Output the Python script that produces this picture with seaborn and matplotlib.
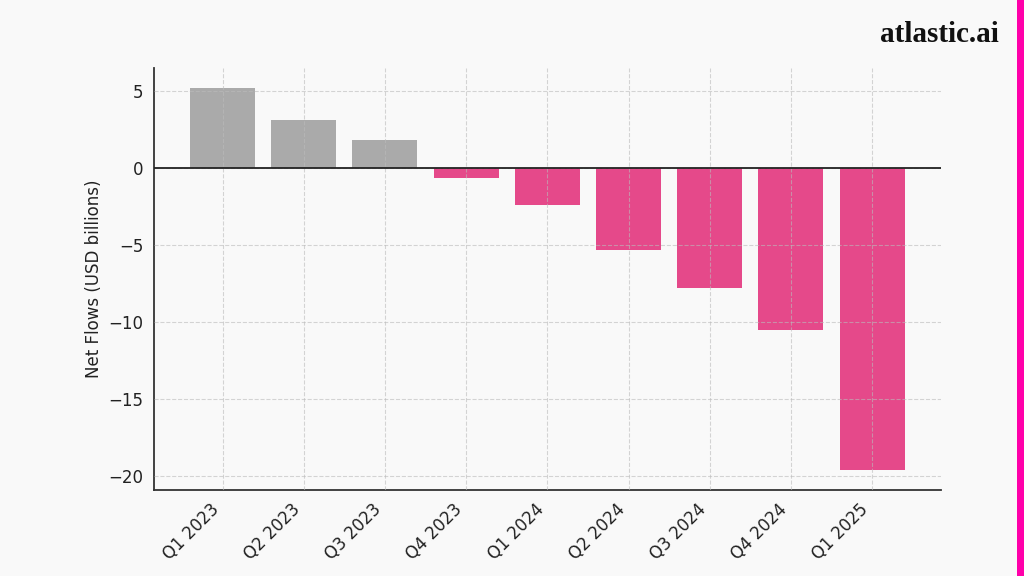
import matplotlib
matplotlib.use("Agg")
import matplotlib.pyplot as plt
import seaborn as sns
import pandas as pd

quarters = ["Q1 2023", "Q2 2023", "Q3 2023", "Q4 2023", "Q1 2024",
            "Q2 2024", "Q3 2024", "Q4 2024", "Q1 2025"]
net_flows = [5.2, 3.1, 1.8, -0.65, -2.4, -5.3, -7.8, -10.5, -19.6]

df = pd.DataFrame({"quarter": quarters, "flow": net_flows})
df["sign"] = ["pos" if v >= 0 else "neg" for v in net_flows]

sns.set_style("white")
plt.rcParams['font.family'] = ['DejaVu Sans']

bg = "#f9f9f9"
fig = plt.figure(figsize=(10.24, 5.76), dpi=100, facecolor=bg)
ax = fig.add_axes([0.150, 0.150, 0.769, 0.732])
ax.set_facecolor(bg)

sns.barplot(data=df, x="quarter", y="flow", hue="sign",
            palette={"pos": "#aaaaaa", "neg": "#e5498a"},
            dodge=False, width=0.8, legend=False, ax=ax, saturation=1,
            linewidth=0)

ax.axhline(0, color="#222222", lw=1.3, zorder=3)
ax.set_axisbelow(False)
ax.grid(True, linestyle="--", color="#bbbbbb", lw=0.8, alpha=0.6)
ax.set_xlim(-0.85, 8.85)
ax.set_ylim(-20.9, 6.5)
ax.set_yticks([5, 0, -5, -10, -15, -20])
ax.set_xlabel("")
ax.set_ylabel("Net Flows (USD billions)", fontsize=12, color="#222222")
for s in ["top", "right"]:
    ax.spines[s].set_visible(False)
for s in ["left", "bottom"]:
    ax.spines[s].set_color("#333333")
    ax.spines[s].set_linewidth(1.3)
ax.tick_params(axis="both", labelsize=12, colors="#222222", length=4)
plt.setp(ax.get_xticklabels(), rotation=45, ha="right")

# brand mark and side stripe
fig.text(0.975, 0.94, "atlastic.ai", ha="right", va="center", fontsize=21,
         fontweight="bold", family=["Liberation Serif", "DejaVu Serif"], color="#111111")
fig.add_artist(plt.Rectangle((0.993, 0), 0.007, 1, transform=fig.transFigure,
                             color="#ff00aa", lw=0))

fig.savefig("out.png", dpi=100, facecolor=bg)
